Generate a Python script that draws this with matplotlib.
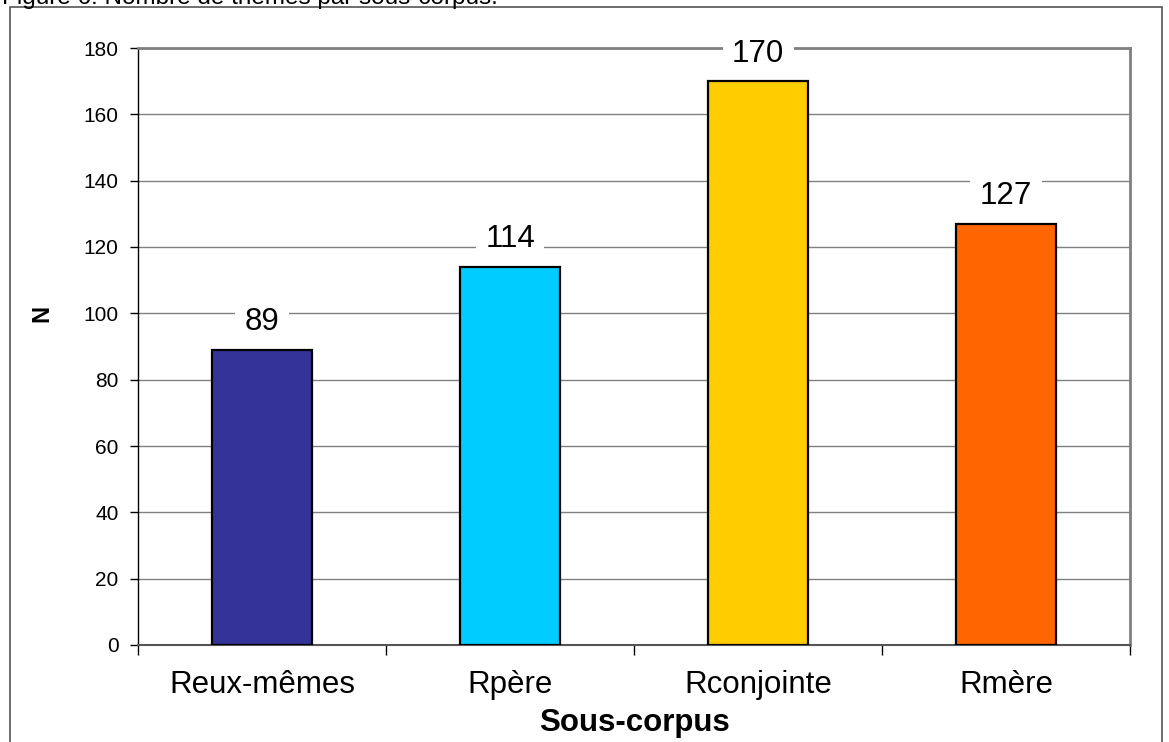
import matplotlib
matplotlib.use("Agg")
import matplotlib.pyplot as plt
from matplotlib.patches import Rectangle

categories = ["Reux-mêmes", "Rpère", "Rconjointe", "Rmère"]
values = [89, 114, 170, 127]
colors = ["#333399", "#00CCFF", "#FFCC00", "#FF6600"]
yticks = [0, 20, 40, 60, 80, 100, 120, 140, 160, 180]

plt.rcParams['font.family'] = ['Liberation Sans', 'DejaVu Sans']

W, H = 1169, 742
fig = plt.figure(figsize=(W / 100, H / 100), dpi=100)
ax = fig.add_axes([138 / W, 1 - 645 / H, (1130 - 138) / W, (645 - 48) / H])

x = list(range(len(categories)))
ax.bar(x, values, width=0.4, color=colors, edgecolor="black", linewidth=1.6, zorder=3)
ax.set_xlim(-0.5, len(categories) - 0.5)
ax.set_ylim(0, 180)
ax.set_yticks(yticks)
ax.tick_params(axis="y", labelsize=15, length=6, width=1, direction="out", pad=8)
ax.yaxis.grid(True, color="#808080", linewidth=1, zorder=0)
ax.set_axisbelow(True)

# x ticks at category boundaries, labels at centers
ax.set_xticks([i - 0.5 for i in range(len(categories) + 1)])
ax.set_xticklabels([])
ax.set_xticks(x, minor=True)
ax.set_xticklabels(categories, minor=True, fontsize=22.5)
ax.tick_params(axis="x", which="major", length=7, width=1, direction="out")
ax.tick_params(axis="x", which="minor", length=0, pad=18)

for s in ["top", "right"]:
    ax.spines[s].set_color("#808080")
    ax.spines[s].set_linewidth(2)
ax.spines["left"].set_color("black")
ax.spines["left"].set_linewidth(1)
ax.spines["bottom"].set_color("#555555")
ax.spines["bottom"].set_linewidth(1.5)

for xi, v in zip(x, values):
    ax.annotate(str(v), (xi, v), xytext=(0, 9), textcoords="offset points",
                ha="center", va="bottom", fontsize=22.5,
                bbox=dict(boxstyle="square,pad=0.3", facecolor="white", edgecolor="none"),
                zorder=4)

ax.set_xlabel("Sous-corpus", fontsize=22.5, fontweight="bold", labelpad=6)
fig.text(42 / W, 1 - 313 / H, "N", rotation=90, fontsize=17, fontweight="bold",
         ha="center", va="center")

# outer border
fig.patches.append(Rectangle((10 / W, -0.05), (1162 - 10) / W, 1.05 - 7 / H,
                             transform=fig.transFigure, fill=False,
                             edgecolor="#555555", linewidth=1.2))

fig.text(2 / W, 1 - 4 / H, "Figure 6: Nombre de thèmes par sous-corpus.",
         fontsize=17.5, ha="left", va="baseline")

fig.savefig("out.png", dpi=100)
